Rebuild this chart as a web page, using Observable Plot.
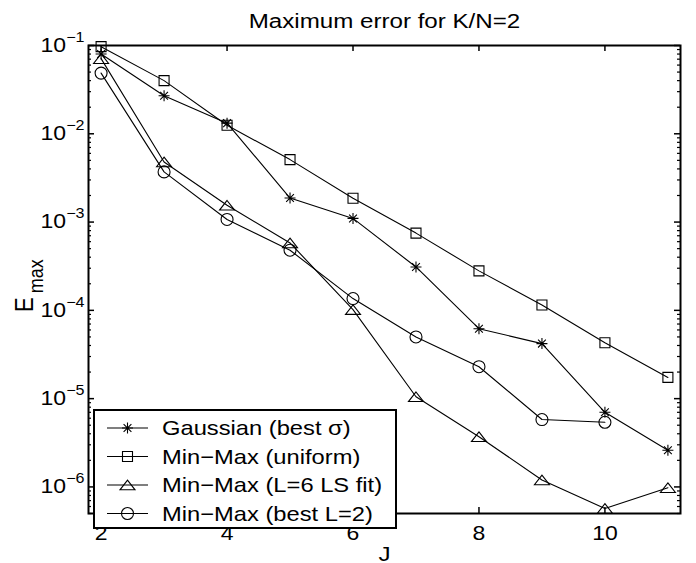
<!DOCTYPE html>
<html><head><meta charset="utf-8">
<script src="https://cdn.jsdelivr.net/npm/d3@7"></script>
<script src="https://cdn.jsdelivr.net/npm/@observablehq/plot@0.6"></script>
<style>
body{margin:0;background:#fff}
svg{font-family:"Liberation Sans",Arial,Helvetica,sans-serif;background:#fff}
</style>
</head><body><div id="chart"></div>
<script>
// ---- data ----
const J = [2, 3, 4, 5, 6, 7, 8, 9, 10, 11];
const gaussian = [0.08, 0.027, 0.0132, 0.00187, 0.0011, 3.1e-4, 6.2e-5, 4.2e-5, 7.0e-6, 2.6e-6];
const uniform  = [0.097, 0.040, 0.0125, 0.0051, 0.00186, 7.5e-4, 2.8e-4, 1.15e-4, 4.3e-5, 1.74e-5];
const lsFit    = [0.071, 0.0048, 0.00155, 5.8e-4, 1.02e-4, 1.05e-5, 3.7e-6, 1.2e-6, 5.7e-7, 9.8e-7];
const bestL2   = [0.0487, 0.0037, 0.00107, 4.8e-4, 1.36e-4, 5.0e-5, 2.3e-5, 5.8e-6, 5.4e-6];
const seriesNames = ["Gaussian (best σ)", "Min−Max (uniform)", "Min−Max (L=6 LS fit)", "Min−Max (best L=2)"];
const xTicks = [2, 4, 6, 8, 10];
const yTicks = [1e-6, 1e-5, 1e-4, 1e-3, 1e-2, 1e-1];
const yMinorMultipliers = [2, 3, 4, 5, 6, 7, 8, 9];
const title = "Maximum error for K/N=2";
const xLabel = "J";

// ---- layout ----
const W = 696, H = 563;
const mL = 88, mR = 16, mT = 45, mB = 50;
const PW = W - mL - mR, PH = H - mT - mB;
const xDomain = [1.8, 11.2];
const yDomain = [5e-7, 1e-1];
const SX = 1.15; // horizontal stretch of the reference's text

// ---- MATLAB-like marker symbols (r = half extent) ----
const rad = s => Math.sqrt(s / Math.PI);
const symStar = {draw(c, s) { const r = rad(s), d = r * Math.SQRT1_2;
  c.moveTo(-r, 0); c.lineTo(r, 0); c.moveTo(0, -r); c.lineTo(0, r);
  c.moveTo(-d, -d); c.lineTo(d, d); c.moveTo(-d, d); c.lineTo(d, -d); }};
const symSquare = {draw(c, s) { const r = rad(s); c.rect(-r, -r, 2 * r, 2 * r); }};
const symTriangle = {draw(c, s) { const r = rad(s);
  c.moveTo(0, -r * 0.8); c.lineTo(r * 1.25, r * 0.8); c.lineTo(-r * 1.25, r * 0.8); c.closePath(); }};
const symCircle = {draw(c, s) { const r = rad(s); c.moveTo(r, 0); c.arc(0, 0, r, 0, 2 * Math.PI); }};

const series = [
  {name: seriesNames[0], values: gaussian, sym: symStar, r: 5.5},
  {name: seriesNames[1], values: uniform, sym: symSquare, r: 5},
  {name: seriesNames[2], values: lsFit, sym: symTriangle, r: 6},
  {name: seriesNames[3], values: bestL2, sym: symCircle, r: 6}
];
const rowsOf = s => s.values.map((v, i) => ({J: J[i], E: v}));

const yMinor = [];
for (const t of [1e-7, ...yTicks]) for (const m of yMinorMultipliers) {
  const v = t * m; if (v >= yDomain[0] && v < yDomain[1]) yMinor.push(v);
}

const marks = [];
for (const s of series) {
  const rows = rowsOf(s);
  marks.push(Plot.line(rows, {x: "J", y: "E", stroke: "black", strokeWidth: 1.1}));
  marks.push(Plot.dot(rows, {x: "J", y: "E", symbol: s.sym, r: s.r, stroke: "black", fill: "none", strokeWidth: 1.1}));
}
// inward ticks (box on, both sides)
marks.push(
  Plot.tickY(yTicks, {y: d => d, insetRight: PW - 6, stroke: "black", strokeWidth: 1.5}),
  Plot.tickY(yTicks, {y: d => d, insetLeft: PW - 6, stroke: "black", strokeWidth: 1.5}),
  Plot.tickY(yMinor, {y: d => d, insetRight: PW - 3, stroke: "black", strokeWidth: 1.2}),
  Plot.tickY(yMinor, {y: d => d, insetLeft: PW - 3, stroke: "black", strokeWidth: 1.2}),
  Plot.tickX(xTicks, {x: d => d, insetTop: PH - 6, stroke: "black", strokeWidth: 1.5}),
  Plot.tickX(xTicks, {x: d => d, insetBottom: PH - 6, stroke: "black", strokeWidth: 1.5}),
  Plot.frame({stroke: "black", strokeWidth: 2}),
  Plot.axisX(xTicks, {tickSize: 0, tickPadding: 12, fontSize: 20, label: null, tickFormat: d => String(d)}),
  Plot.axisY(yTicks, {tickSize: 0, tickPadding: 4, fontSize: 20, label: null,
    tickFormat: d => String(Math.round(Math.log10(d)))}),
  Plot.text([title], {text: d => d, frameAnchor: "top", dy: -18, lineAnchor: "bottom", fontSize: 21, fill: "black"}),
  Plot.text([xLabel], {text: d => d, frameAnchor: "bottom", dy: 47, lineAnchor: "bottom", fontSize: 21, fill: "black"})
);

const svg = Plot.plot({
  width: W, height: H,
  marginLeft: mL, marginRight: mR, marginTop: mT, marginBottom: mB,
  style: {color: "black", background: "white", overflow: "visible"},
  x: {domain: xDomain},
  y: {type: "log", domain: yDomain},
  marks
});

const root = d3.select(svg);
// y tick labels as 10 with superscript exponent
root.selectAll('g[aria-label="y-axis tick label"] text').each(function () {
  const e = this.textContent.replace("-", "−");
  const t = d3.select(this);
  t.text(null);
  t.append("tspan").text("10");
  t.append("tspan").attr("dy", -10).attr("font-size", 14).text(e);
});
// stretch all text horizontally like the reference
root.selectAll("text").each(function () {
  const tr = this.getAttribute("transform") || "";
  const x = this.getAttribute("x");
  if (x != null && !isNaN(+x)) this.setAttribute("x", +x / SX);
  this.setAttribute("transform", (tr + ` scale(${SX},1)`).trim());
});

// y label: E_max (rotated)
const yl = root.append("text").attr("transform", `translate(33,312) rotate(-90) scale(1,${SX})`)
  .attr("text-anchor", "start").attr("font-size", 22).attr("fill", "black");
yl.append("tspan").text("E");
yl.append("tspan").attr("dx", 4).attr("dy", 9).attr("font-size", 18).text("max");

// legend
const lg = root.append("g");
lg.append("rect").attr("x", 94).attr("y", 410).attr("width", 302).attr("height", 118)
  .attr("fill", "white").attr("stroke", "black").attr("stroke-width", 2);
series.forEach((s, i) => {
  const cy = 428 + i * 28.5;
  lg.append("line").attr("x1", 107).attr("x2", 148).attr("y1", cy).attr("y2", cy)
    .attr("stroke", "black").attr("stroke-width", 1.1);
  lg.append("path").attr("transform", `translate(127.5,${cy})`)
    .attr("d", d3.symbol(s.sym, Math.PI * s.r * s.r)())
    .attr("fill", "none").attr("stroke", "black").attr("stroke-width", 1.1);
  lg.append("text").attr("transform", `translate(162,${cy}) scale(1.13,1)`)
    .attr("text-anchor", "start").attr("dy", "0.34em").attr("font-size", 21).attr("fill", "black").text(s.name);
});

document.getElementById("chart").appendChild(svg);
</script>
</body></html>
